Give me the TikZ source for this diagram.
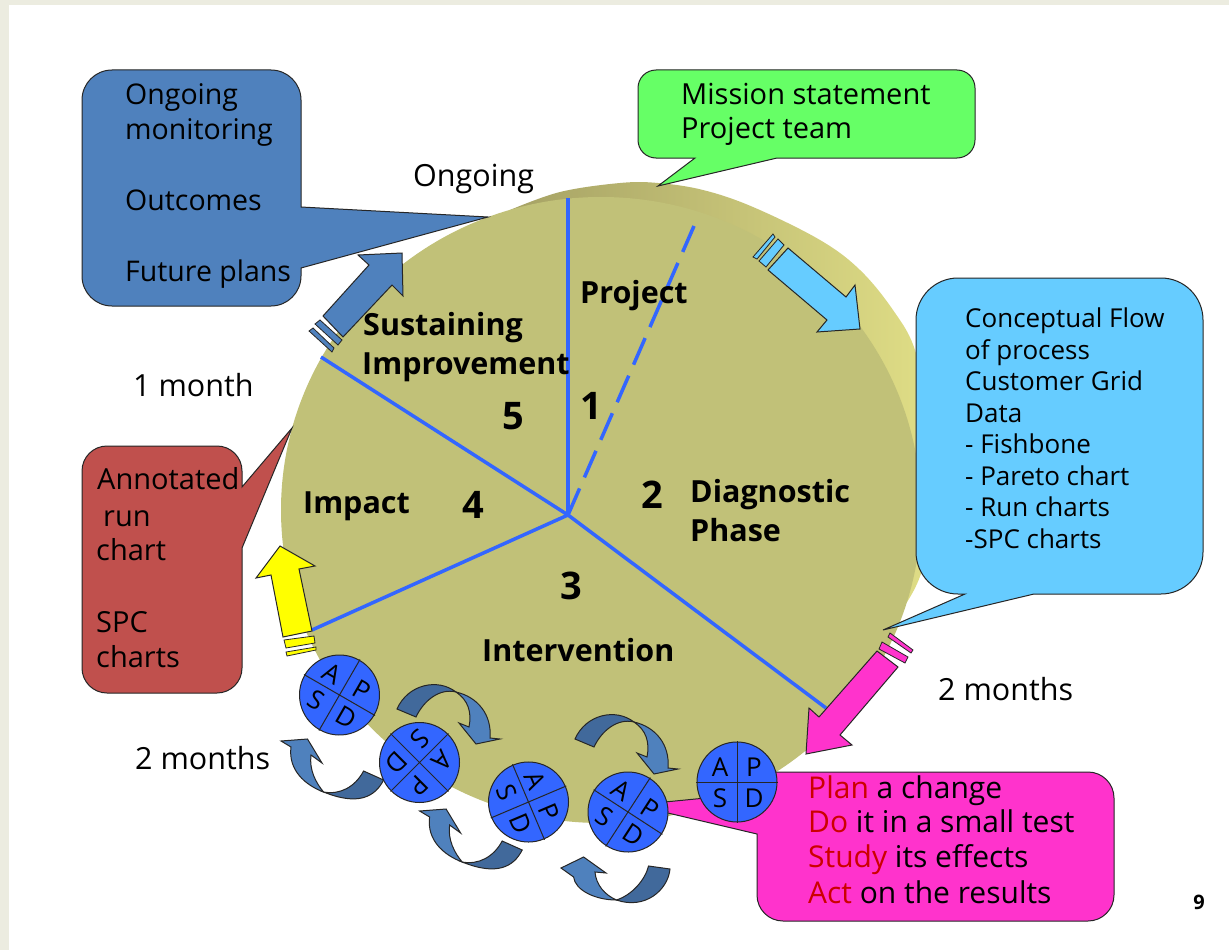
\documentclass[tikz,border=0pt]{standalone}
\usepackage{fontspec}
\setmainfont{Open Sans}
\definecolor{bgc}{HTML}{ECECE0}
\definecolor{face}{HTML}{C1C178}
\definecolor{sideA}{HTML}{A6A265}
\definecolor{sideB}{HTML}{E0DE86}
\definecolor{spoke}{HTML}{3366FF}
\definecolor{cblue}{HTML}{4F81BD}
\definecolor{cdark}{HTML}{41699B}
\definecolor{cgreen}{HTML}{66FF66}
\definecolor{csky}{HTML}{66CCFF}
\definecolor{cred}{HTML}{C0504D}
\definecolor{cpink}{HTML}{FF33CC}
\definecolor{cyel}{HTML}{FFFF00}
\definecolor{wred}{HTML}{CC0000}
\tikzset{
  shp/.style={draw=black!85,line width=1pt,line join=miter},
  spokeline/.style={draw=spoke,line width=3.5pt},
  body/.style={anchor=base west,inner sep=0pt,font=\fontsize{27}{30}\selectfont},
  txtblue/.style={body,font=\fontsize{28.5}{30}\selectfont},
  txtgreen/.style={body,font=\fontsize{29}{30}\selectfont},
  txtsky/.style={body,font=\fontsize{26}{30}\selectfont},
  txtred/.style={body,font=\fontsize{29}{30}\selectfont},
  txtpink/.style={body,font=\fontsize{30}{32}\selectfont},
  big/.style={anchor=base west,inner sep=0pt,font=\fontsize{30.5}{32}\selectfont},
  heavy/.style={anchor=base west,inner sep=0pt,font=\fontsize{30.5}{32}\selectfont\bfseries},
  num/.style={anchor=base,inner sep=0pt,font=\fontsize{38}{40}\selectfont\bfseries},
  letter/.style={inner sep=0pt,font=\fontsize{26}{26}\selectfont,transform shape},
  stripe/.style={shp,line width=0.8pt},
}
\newcommand{\pdsa}[4]{%
  \begin{scope}[shift={(#2,#3)},rotate=#4]
    \draw[shp,fill=spoke] (0,0) circle (40);
    \draw[shp] (-41,0) -- (41,0) (0,-41) -- (0,41);
    \node[letter] (#1a) at (-17,-15) {A};
    \node[letter] (#1p) at (17,-15) {P};
    \node[letter] (#1s) at (-17,16) {S};
    \node[letter] (#1d) at (17,16) {D};
  \end{scope}}
\newcommand{\topcurl}[2]{%
  \begin{scope}[shift={(#1,#2)}]
    \draw[shp,fill=cdark] (397,709) .. controls (408,684) and (438,678) .. (456,692)
      .. controls (440,688) and (424,700) .. (416,717) -- cycle;
    \draw[shp,fill=cblue] (456,692) .. controls (478,697) and (492,715) .. (490,738)
      -- (500,739) -- (476,744) -- (459,723) -- (469,727)
      .. controls (472,712) and (468,700) .. (456,692) -- cycle;
  \end{scope}}
\newcommand{\lowcurl}[2]{%
  \begin{scope}[shift={(#1,#2)}]
    \draw[shp,fill=cblue] (281,741) -- (307.5,739) -- (322,763) -- (311,755)
      .. controls (309,770) and (316,783) .. (323.6,792)
      .. controls (305,785) and (288,770) .. (291,747) -- cycle;
    \draw[shp,fill=cdark] (363.6,771) -- (383.6,780)
      .. controls (375,797) and (358,806) .. (323.6,792)
      .. controls (340,795) and (355,787) .. (363.6,771) -- cycle;
  \end{scope}}
\begin{document}
\begin{tikzpicture}[x=1pt,y=-1pt]
\useasboundingbox (0,0) rectangle (1229,950);
\fill[bgc] (0,0) rectangle (1229,950);
\fill[white] (9,5) rectangle (1229,950);
% disc
\shade[left color=sideA,right color=sideB]
  plot[smooth,tension=.6] coordinates {(510,210) (560,192) (620,183) (658,183) (703,190) (753,207) (820,240) (860,270) (893,310) (915,350) (930,420) (932,500) (922,570) (905,605)} -- (600,510) -- cycle;
\fill[face] (601,510) ellipse [x radius=320,y radius=313];
% spokes
\coordinate (hub) at (568,515);
\coordinate (s1) at (568,198);
\coordinate (s2) at (694,226);
\coordinate (s3) at (826,708);
\coordinate (s4) at (312,630);
\coordinate (s5) at (321,357);
\draw[spokeline] (hub) -- (s1);
\draw[spokeline,dash pattern=on 29pt off 12pt] (hub) -- (s2);
\draw[spokeline] (hub) -- (s3);
\draw[spokeline] (hub) -- (s4);
\draw[spokeline] (hub) -- (s5);
% callouts
\draw[shp,fill=cblue] (200,70) [rounded corners=30pt] -- (301,70) [sharp corners] -- (301,207) -- (488,217) -- (301,268) [rounded corners=30pt] -- (301,306) -- (82,306) -- (82,70) -- cycle;
\draw[shp,fill=cgreen] (800,70) [rounded corners=18pt] -- (975,70) -- (975,158) [sharp corners] -- (777,158) -- (658,186) -- (695,158) [rounded corners=18pt] -- (638,158) -- (638,70) -- cycle;
\draw[shp,fill=csky] (1050,278) [rounded corners=42pt] -- (1203,278) -- (1203,594) [sharp corners] -- (1034,594) -- (883,630) -- (965,594) [rounded corners=42pt] -- (916,594) -- (916,278) -- cycle;
\draw[shp,fill=cred] (160,446) [rounded corners=25pt] -- (242,446) [sharp corners] -- (242,487) -- (292,428) -- (242,548) [rounded corners=25pt] -- (242,693) -- (82,693) -- (82,446) -- cycle;
\draw[shp,fill=cpink] (900,772) [rounded corners=26pt] -- (1114,772) -- (1114,921) -- (757,921) [sharp corners] -- (757,834) -- (634,805) -- (757,793) -- (757,772) -- cycle;
% block arrows
\draw[shp,fill=csky] (788,248) -- (846,297) -- (855,285) -- (860,329) -- (817,332) -- (827,320) -- (768,270) -- cycle;
\draw[stripe,fill=csky] (778,239) -- (784,245) -- (766,267) -- (759,261) -- cycle;
\draw[stripe,fill=csky] (773,234) -- (775,237) -- (757,259) -- (753,257) -- cycle;
\draw[shp,fill=cpink] (877,651) -- (898,667) -- (840,735) -- (852,745) -- (806,754) -- (809,708) -- (819,717) -- cycle;
\draw[stripe,fill=cpink] (882,642) -- (908,657) -- (905,663) -- (879,649) -- cycle;
\draw[stripe,fill=cpink] (890,633) -- (913,650) -- (911,653) -- (888,637) -- cycle;
\draw[shp,fill=cblue] (402,253) -- (358,255) -- (369,265) -- (323,316) -- (343,337) -- (392,285) -- (403,296) -- cycle;
\draw[stripe,fill=cblue] (320,320) -- (342,340) -- (338,345) -- (315,324) -- cycle;
\draw[stripe,fill=cblue] (313,328) -- (334,348) -- (332,352) -- (309,331) -- cycle;
\draw[shp,fill=cyel] (280,546) -- (315,566) -- (299,569) -- (312,631) -- (283,637) -- (271,575) -- (256,578) -- cycle;
\draw[stripe,fill=cyel] (284,640) -- (314,636) -- (315,643) -- (286,648) -- cycle;
\draw[stripe,fill=cyel] (286,652) -- (316,647) -- (316,650) -- (287,656) -- cycle;
% curled arrows
\topcurl{0}{0}
\topcurl{178}{30}
\lowcurl{0}{0}
\lowcurl{138.6}{70}
\begin{scope}
  \draw[shp,fill=cblue] (561,868) -- (583.6,857) -- (606,873) -- (595,872)
    .. controls (596,885) and (605,895) .. (616.4,900)
    .. controls (595,900) and (575,890) .. (573.6,877) -- cycle;
  \draw[shp,fill=cdark] (648.6,866) -- (670,869)
    .. controls (668,890) and (645,910) .. (616.4,900)
    .. controls (632,895) and (645,880) .. (648.6,866) -- cycle;
\end{scope}
% PDSA wheels
\pdsa{w1}{339.5}{695}{-30}
\pdsa{w2}{419.5}{762.5}{-135}
\pdsa{w3}{528.5}{802}{-67}
\pdsa{w4}{628}{812}{-33}
\pdsa{w5}{737}{782}{0}
% text
\node[txtblue] (t1) at (125,104) {Ongoing};
\node[txtblue] (t2) at (125,139) {monitoring};
\node[txtblue] (t3) at (125,210) {Outcomes};
\node[txtblue] (t4) at (125,281) {Future plans};
\node[txtgreen] (t5) at (681,104) {Mission statement};
\node[txtgreen] (t6) at (681,138) {Project team};
\node[big] (t7) at (413,186) {Ongoing};
\node[big] (t8) at (133,396) {1 month};
\node[big] (t9) at (938,700) {2 months};
\node[big] (t10) at (135,769) {2 months};
\node[txtsky] (c1) at (965,327) {Conceptual Flow};
\node[txtsky] (c2) at (965,359) {of process};
\node[txtsky] (c3) at (965,390) {Customer Grid};
\node[txtsky] (c4) at (965,422) {Data};
\node[txtsky] (c5) at (965,453) {- Fishbone};
\node[txtsky] (c6) at (965,485) {- Pareto chart};
\node[txtsky] (c7) at (965,516) {- Run charts};
\node[txtsky] (c8) at (965,548) {-SPC charts};
\node[txtred] (r1) at (97,489) {Annotated};
\node[txtred] (r2) at (103,526) {run};
\node[txtred] (r3) at (96,560) {chart};
\node[txtred] (r4) at (96,632) {SPC};
\node[txtred] (r5) at (96,667) {charts};
\node[txtpink] (p1) at (808,798) {\textcolor{wred}{Plan} a change};
\node[txtpink] (p2) at (808,832) {\textcolor{wred}{Do} it in a small test};
\node[txtpink] (p3) at (808,867) {\textcolor{wred}{Study} its effects};
\node[txtpink] (p4) at (808,903) {\textcolor{wred}{Act} on the results};
\node[heavy] (h1) at (580,303) {Project};
\node[heavy] (h2) at (363,335) {Sustaining};
\node[heavy] (h3) at (362,374) {Improvement};
\node[heavy] (h4) at (690,502) {Diagnostic};
\node[heavy] (h5) at (690,541) {Phase};
\node[heavy] (h6) at (303,513) {Impact};
\node[heavy] (h7) at (482,661) {Intervention};
\node[num] (n5) at (513,429) {5};
\node[num] (n1) at (591,419) {1};
\node[num] (n2) at (652,508) {2};
\node[num] (n4) at (473,518) {4};
\node[num] (n3) at (571,599) {3};
\node[anchor=base,inner sep=0pt,font=\fontsize{20}{22}\selectfont\bfseries] (pg) at (1199,909) {9};
\end{tikzpicture}
\end{document}
